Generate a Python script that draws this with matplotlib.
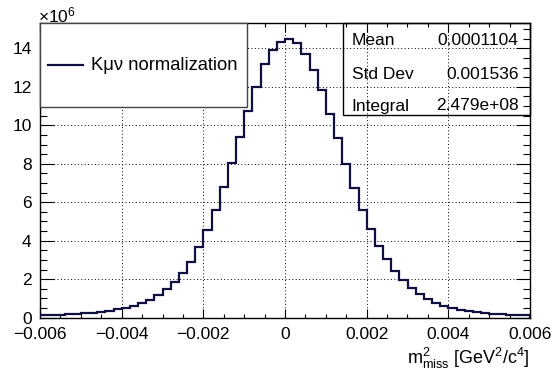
import numpy as np
import matplotlib
matplotlib.use("Agg")
import matplotlib.pyplot as plt
from matplotlib.patches import Rectangle
from matplotlib.lines import Line2D
from matplotlib.ticker import MultipleLocator, FixedLocator, FixedFormatter

plt.rcParams['font.family'] = ['Liberation Sans', 'DejaVu Sans']
plt.rcParams['mathtext.fontset'] = 'custom'
plt.rcParams['mathtext.rm'] = 'Liberation Sans'
plt.rcParams['mathtext.it'] = 'Liberation Sans:italic'
plt.rcParams['mathtext.bf'] = 'Liberation Sans:bold'

# ---------------- data ----------------
bin_lo = -0.006
bin_hi = 0.006
n_bins = 60
# counts in units of 1e6
counts = [0.12, 0.13, 0.15, 0.17, 0.19, 0.22, 0.25, 0.29, 0.35, 0.43,
          0.52, 0.60, 0.75, 0.92, 1.18, 1.47, 1.84, 2.30, 2.91, 3.69,
          4.55, 5.59, 6.77, 8.05, 9.37, 10.75, 12.0, 13.2, 13.9, 14.34,
          14.51, 14.29, 13.73, 12.87, 11.83, 10.58, 9.32, 7.98, 6.72, 5.59,
          4.59, 3.72, 3.03, 2.44, 1.96, 1.56, 1.23, 0.99, 0.78, 0.625,
          0.52, 0.42, 0.33, 0.28, 0.24, 0.21, 0.19, 0.16, 0.14, 0.12]
xticks = [-0.006, -0.004, -0.002, 0.0, 0.002, 0.004, 0.006]
xticklabels = ["\u22120.006", "\u22120.004", "\u22120.002", "0", "0.002", "0.004", "0.006"]
yticks = [0, 2, 4, 6, 8, 10, 12, 14]
yticklabels = ["0", "2", "4", "6", "8", "10", "12", "14"]
legend_label = "K\u03bc\u03bd normalization"
stat_names = ["Mean", "Std Dev", "Integral"]
stat_values = ["0.0001104", "0.001536", "2.479e+08"]
xlabel = r"m$^{2}_{\mathrm{miss}}$ [GeV$^{2}$/c$^{4}$]"

W, H = 552, 371
fig = plt.figure(figsize=(W / 100, H / 100), dpi=100)

def fx(x):
    return x / W

def fy(y):
    return 1 - y / H

ax_l, ax_r, ax_t, ax_b = 40, 530, 23.3, 317.7
ax = fig.add_axes([fx(ax_l), fy(ax_b), (ax_r - ax_l) / W, (ax_b - ax_t) / H])

edges = np.linspace(bin_lo, bin_hi, n_bins + 1)
line_color = '#101040'
ax.stairs(counts, edges, color=line_color, linewidth=1.6, zorder=3)

ax.set_xlim(bin_lo, bin_hi)
ax.set_ylim(0, 15.3)

ax.xaxis.set_major_locator(FixedLocator(xticks))
ax.xaxis.set_major_formatter(FixedFormatter(xticklabels))
ax.xaxis.set_minor_locator(MultipleLocator(0.0005))
ax.yaxis.set_major_locator(FixedLocator(yticks))
ax.yaxis.set_major_formatter(FixedFormatter(yticklabels))
ax.yaxis.set_minor_locator(MultipleLocator(0.5))

ax.tick_params(which='both', direction='in', top=True, right=True, colors='black', labelsize=12.5)
ax.xaxis.set_tick_params(which='major', length=6.5, width=0.8, pad=7)
ax.xaxis.set_tick_params(which='minor', length=3.2, width=0.8)
ax.yaxis.set_tick_params(which='major', length=10, width=0.8, pad=6)
ax.yaxis.set_tick_params(which='minor', length=5, width=0.8)
for s in ax.spines.values():
    s.set_linewidth(1.0)
    s.set_color('black')

ax.grid(which='major', color='black', linestyle=(0, (1, 2.5)), linewidth=0.7)
ax.set_axisbelow(True)

# x10^6 multiplier
fig.text(fx(38), fy(22), r"$\times$10$^{6}$", ha='left', va='baseline', fontsize=12.5)

# x-axis label
fig.text(fx(ax_r), fy(358), xlabel, ha='right', va='center', fontsize=13)

# legend box (manual)
leg = Rectangle((fx(40), fy(106.7)), fx(247) - fx(40), fy(23.3) - fy(106.7),
                transform=fig.transFigure, facecolor='white', edgecolor='#444444',
                linewidth=1.0, zorder=5)
fig.add_artist(leg)
fig.add_artist(Line2D([fx(48), fx(83)], [fy(65), fy(65)], transform=fig.transFigure,
                      color=line_color, linewidth=1.6, zorder=6))
fig.text(fx(91), fy(65), legend_label, ha='left', va='center', fontsize=13.2, zorder=6)

# stats box (transparent)
sb = Rectangle((fx(342.7), fy(115)), fx(530) - fx(342.7), fy(23.3) - fy(115),
               transform=fig.transFigure, facecolor='none', edgecolor='black',
               linewidth=1.0, zorder=5)
fig.add_artist(sb)
row_y = [40.8, 74.5, 106]
for name, val, yy in zip(stat_names, stat_values, row_y):
    fig.text(fx(351.5), fy(yy), name, ha='left', va='center', fontsize=12.5, zorder=6)
    fig.text(fx(518.5), fy(yy), val, ha='right', va='center', fontsize=12.5, zorder=6)

fig.savefig("out.png", dpi=100)
